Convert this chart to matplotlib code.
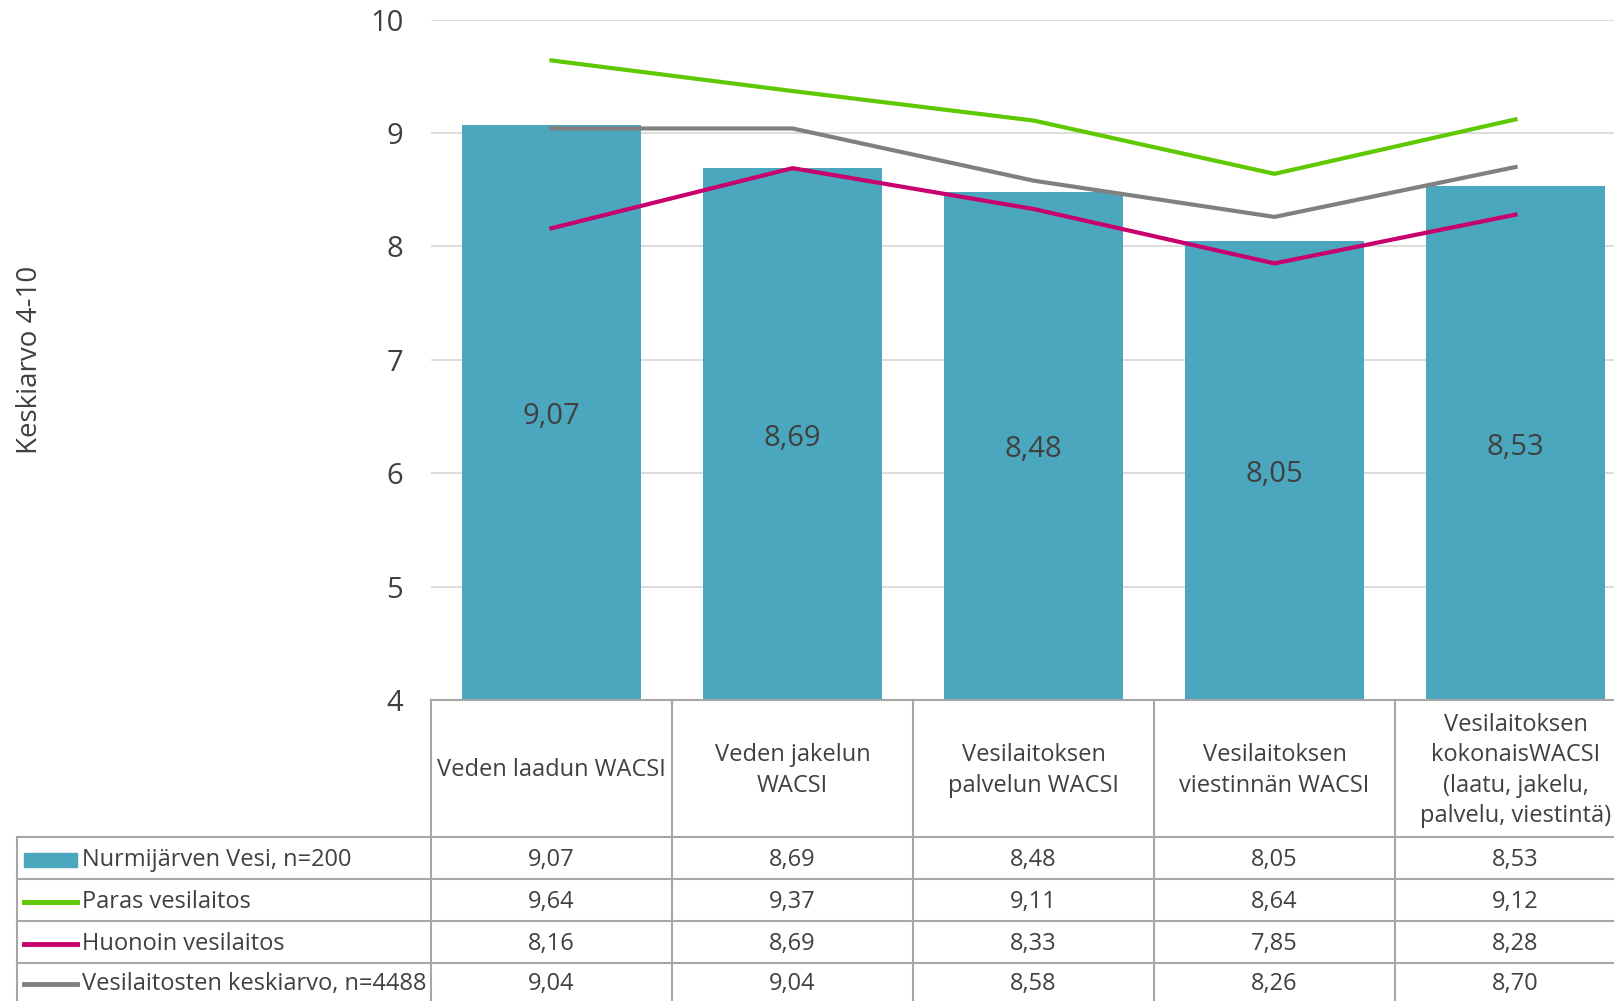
import matplotlib
matplotlib.use("Agg")
import matplotlib.pyplot as plt
import matplotlib.transforms as mtransforms
from matplotlib.patches import Rectangle
from matplotlib.lines import Line2D

categories = ["Veden laadun WACSI", "Veden jakelun\nWACSI", "Vesilaitoksen\npalvelun WACSI",
              "Vesilaitoksen\nviestinnän WACSI",
              "Vesilaitoksen\nkokonaisWACSI\n(laatu, jakelu,\npalvelu, viestintä)"]
nurmijarvi = [9.07, 8.69, 8.48, 8.05, 8.53]
paras = [9.64, 9.37, 9.11, 8.64, 9.12]
huonoin = [8.16, 8.69, 8.33, 7.85, 8.28]
keskiarvo = [9.04, 9.04, 8.58, 8.26, 8.70]
series_names = ["Nurmijärven Vesi, n=200", "Paras vesilaitos", "Huonoin vesilaitos",
                "Vesilaitosten keskiarvo, n=4488"]
yticks = [4, 5, 6, 7, 8, 9, 10]

BAR = "#4BA7BE"
GREEN = "#5EC800"
MAGENTA = "#C8006E"
GRAY = "#808080"
TXT = "#404040"
LINE = "#A6A6A6"

plt.rcParams['font.family'] = ['Open Sans', 'DejaVu Sans']

W, H = 1615, 1001
fig = plt.figure(figsize=(W / 100, H / 100), dpi=100)

# plot area in pixels (chart is cropped on the right)
L, R, T, B = 431, 1636, 19.6, 700
ax = fig.add_axes([L / W, 1 - B / H, (R - L) / W, (B - T) / H])
x = list(range(len(categories)))
ax.bar(x, [v - 4 for v in nurmijarvi], bottom=4, width=0.74, color=BAR, zorder=2)
ax.plot(x, paras, color=GREEN, lw=3, zorder=3)
ax.plot(x, huonoin, color=MAGENTA, lw=3, zorder=3)
ax.plot(x, keskiarvo, color=GRAY, lw=3, zorder=3)
lab_tr = mtransforms.offset_copy(ax.transData, fig=fig, x=0, y=-4, units="dots")
for xi, v in zip(x, nurmijarvi):
    ax.text(xi, (v + 4) / 2, f"{v:.2f}".replace(".", ","), ha="center", va="center",
            fontsize=21, color=TXT, zorder=4, transform=lab_tr)
ax.set_xlim(-0.5, len(categories) - 0.5)
ax.set_ylim(4, 10)
ax.set_yticks(yticks)
ax.set_yticklabels([str(t) for t in yticks], fontsize=21, color=TXT)
ax.tick_params(axis="y", length=0, pad=20)
ax.set_xticks([])
for s in ax.spines.values():
    s.set_visible(False)
ax.grid(axis="y", color="#D9D9D9", lw=1.3, zorder=0)
ax.set_axisbelow(True)
ax.patch.set_alpha(0)

fig.text(30 / W, 1 - 360 / H, "Keskiarvo 4-10", rotation=90, ha="center", va="center",
         fontsize=20, color=TXT)

# table overlay in pixel coords
tx = fig.add_axes([0, 0, 1, 1])
tx.set_xlim(0, W)
tx.set_ylim(H, 0)
tx.axis("off")
tx.patch.set_alpha(0)

cols = [431, 672, 913, 1154, 1395, 1636]
rows = [837, 879, 921, 963, 1005]
lw = 1.5
tx.add_line(Line2D([431, W], [700, 700], color=LINE, lw=lw))
for c in cols[:-1]:
    tx.add_line(Line2D([c, c], [700, H], color=LINE, lw=lw))
tx.add_line(Line2D([17.5, 17.5], [837, H], color=LINE, lw=lw))
for r in rows[:-1]:
    tx.add_line(Line2D([17.5, W], [r, r], color=LINE, lw=lw))

for i, cat in enumerate(categories):
    cx = (cols[i] + cols[i + 1]) / 2
    tx.text(cx, (700 + 837) / 2 + 2, cat, ha="center", va="center", fontsize=17,
            color=TXT, linespacing=1.35)

all_series = [nurmijarvi, paras, huonoin, keskiarvo]
colors = [BAR, GREEN, MAGENTA, GRAY]
for j, (name, vals, col) in enumerate(zip(series_names, all_series, colors)):
    cy = (rows[j] + rows[j + 1]) / 2 + 2 if j < 3 else (963 + 1001) / 2 + 2
    if j == 0:
        tx.add_patch(Rectangle((24, cy - 7), 53, 14, color=col))
    else:
        tx.add_line(Line2D([24, 77], [cy, cy], color=col, lw=3.5))
    tx.text(82, cy, name, ha="left", va="center", fontsize=17, color=TXT)
    for i, v in enumerate(vals):
        cx = (cols[i] + cols[i + 1]) / 2
        tx.text(cx, cy, f"{v:.2f}".replace(".", ","), ha="center", va="center",
                fontsize=17, color=TXT)

fig.savefig("out.png", dpi=100)
